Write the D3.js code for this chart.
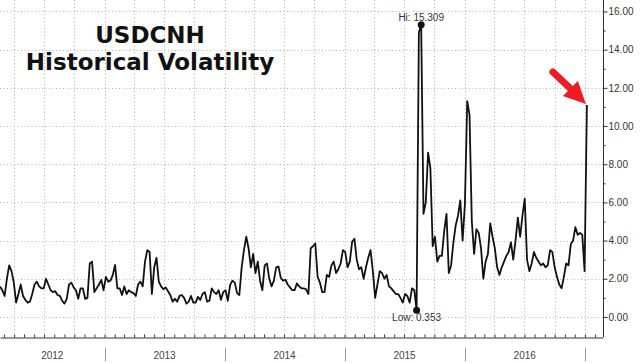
<!DOCTYPE html>
<html>
<head>
<meta charset="utf-8">
<script src="https://cdn.jsdelivr.net/npm/d3@7"></script>
<style>
  body { margin: 0; background: #fff; }
  svg { display: block; }
</style>
</head>
<body>
<div id="chart"></div>
<script>
// chart data: weekly USDCNH historical volatility
const startDate = "2012-02-18";
const volatility = [
  1.6, 1.4, 1.1, 2.0, 2.7, 2.4, 1.8, 0.75, 1.2, 1.7, 1.1, 0.9, 0.75, 0.8, 1.2, 1.7, 1.85, 1.6, 1.5, 1.5, 2.0, 1.7,
  1.4, 1.3, 1.35, 1.15, 1.1, 0.85, 0.7, 0.95, 1.7, 1.8, 1.55, 1.4, 0.95, 1.5, 1.5, 0.95, 1.0, 2.8, 2.9, 1.3, 1.5, 1.7,
  1.94, 1.4, 2.1, 1.85, 1.9, 2.2, 2.72, 1.5, 1.5, 1.15, 1.6, 1.2, 1.4, 1.3, 1.25, 1.1, 1.7, 1.85, 1.6, 2.9, 3.5, 3.4,
  1.2, 2.6, 3.1, 1.85, 1.6, 1.45, 1.55, 1.35, 1.15, 0.8, 0.95, 0.8, 1.1, 1.15, 1.0, 0.7, 0.8, 1.1, 0.75, 0.75, 1.05,
  0.89, 1.2, 1.3, 0.8, 0.85, 1.5, 1.3, 1.2, 1.4, 0.9, 1.3, 1.4, 0.85, 1.68, 1.9, 1.8, 1.25, 1.15, 2.6, 3.5, 4.2, 3.6,
  2.6, 3.3, 2.3, 2.9, 1.9, 1.4, 2.7, 2.8, 2.0, 1.6, 1.9, 2.6, 2.64, 2.05, 1.9, 1.95, 1.7, 1.55, 1.4, 1.4, 1.76, 1.6,
  1.5, 1.5, 1.45, 1.2, 3.6, 3.7, 3.85, 2.1, 1.8, 1.3, 1.3, 2.2, 2.1, 2.7, 2.9, 2.3, 2.5, 2.8, 3.5, 3.4, 2.6, 2.9,
  3.94, 4.1, 3.0, 2.5, 2.6, 2.0, 2.6, 3.1, 3.5, 2.4, 1.0, 1.7, 2.4, 2.3, 2.0, 2.2, 1.6, 1.5, 1.35, 1.2, 1.2, 1.0,
  0.75, 1.2, 1.1, 0.75, 1.5, 1.4, 0.353,
  14.9, 15.309, 5.4, 6.0, 8.6, 7.8, 3.7, 4.2, 2.9, 3.2, 3.2, 4.5, 5.4, 2.3, 2.7, 3.9, 4.8, 5.3, 6.1, 4.0, 5.9, 11.3,
  10.6, 5.0, 3.3, 4.6, 4.4, 3.6, 2.0, 2.9, 3.3, 4.9, 4.2, 3.6, 2.6, 2.2,
  2.6, 2.9, 3.2, 3.4, 3.9, 3.0, 4.0, 5.2, 4.2, 5.3, 6.2, 3.0, 2.4, 2.8, 3.4, 3.1, 2.9, 2.7, 2.8, 2.6, 2.7, 3.5,
  3.4, 2.6, 2.1, 1.7, 1.5, 2.1, 2.8, 2.7, 3.8, 4.0, 4.7, 4.3, 4.4, 4.3, 2.4, 11.1
];
const yTicks = [0, 2, 4, 6, 8, 10, 12, 14, 16];
const yMinorTicks = [1, 3, 5, 7, 9, 11, 13, 15];
const years = ["2012", "2013", "2014", "2015", "2016", "2017"];
const titleLines = ["USDCNH", "Historical Volatility"];

const svgWidth = 640;
const svgHeight = 363;
const plotRight = 603;
const plotBottom = 337;

const svg = d3.select("#chart")
    .append("svg")
    .attr("width", svgWidth)
    .attr("height", svgHeight)
    .style("font-family", "'Liberation Sans', Arial, sans-serif");

svg.append("rect").attr("width", svgWidth).attr("height", svgHeight).attr("fill", "#fff");

const parse = d3.timeParse("%Y-%m-%d");
const start = parse(startDate);
const data = volatility.map((v, i) => ({ date: d3.timeDay.offset(start, i * 7), value: v }));

// scales
const x = d3.scaleTime()
    .domain([parse("2012-02-18"), parse("2017-02-25")])
    .range([0, plotRight]);
const y = d3.scaleLinear()
    .domain([-1.05, 16.6])
    .range([plotBottom, 0]);

// dotted grid
const grid = svg.append("g")
    .attr("stroke", "#b4b4b4")
    .attr("stroke-width", 1)
    .attr("stroke-dasharray", "1,2.5");

grid.selectAll("line.h")
    .data(yTicks)
    .enter()
    .append("line")
    .attr("x1", 0)
    .attr("x2", plotRight)
    .attr("y1", d => Math.round(y(d)) + 0.5)
    .attr("y2", d => Math.round(y(d)) + 0.5);

grid.selectAll("line.v")
    .data(x.ticks(d3.timeMonth.every(3)))
    .enter()
    .append("line")
    .attr("x1", d => Math.round(x(d)) + 0.5)
    .attr("x2", d => Math.round(x(d)) + 0.5)
    .attr("y1", 0)
    .attr("y2", plotBottom);

// title
svg.selectAll("text.title")
    .data(titleLines)
    .enter()
    .append("text")
    .attr("x", 150)
    .attr("y", (d, i) => 42.5 + i * 27.5)
    .attr("text-anchor", "middle")
    .style("font-family", "'DejaVu Sans', Verdana, sans-serif")
    .style("font-weight", "bold")
    .style("font-size", "23px")
    .attr("fill", "#111")
    .text(d => d);

// the line
svg.append("clipPath").attr("id", "clip")
    .append("rect").attr("width", plotRight).attr("height", plotBottom);

const line = d3.line()
    .x(d => x(d.date))
    .y(d => y(d.value));

svg.append("path")
    .datum(data)
    .attr("clip-path", "url(#clip)")
    .attr("fill", "none")
    .attr("stroke", "#111")
    .attr("stroke-width", 1.8)
    .attr("stroke-linejoin", "round")
    .attr("d", line);

// right axis
const rightAxis = d3.axisRight(y)
    .tickValues(yTicks)
    .tickFormat(d3.format(".2f"))
    .tickSize(4)
    .tickSizeOuter(0);

const yAxis = svg.append("g")
    .attr("transform", `translate(${plotRight + 0.5}, 0)`)
    .call(rightAxis);
yAxis.select(".domain").attr("stroke", "#333").attr("d", `M0,0V${plotBottom}`);
yAxis.selectAll(".tick line").attr("stroke", "#333");
yAxis.selectAll(".tick text")
    .attr("x", 5)
    .attr("fill", "#333")
    .style("font-size", "10px")
    .style("font-family", "'Liberation Sans', Arial, sans-serif");

svg.append("g")
    .attr("transform", `translate(${plotRight + 0.5}, 0)`)
    .call(d3.axisRight(y).tickValues(yMinorTicks).tickSize(2).tickFormat(""))
    .call(g => g.select(".domain").remove())
    .selectAll("line").attr("stroke", "#333");

// bottom axis with monthly ticks pointing up
const bottomAxis = d3.axisBottom(x)
    .ticks(d3.timeMonth.every(1))
    .tickSize(-3)
    .tickSizeOuter(0)
    .tickFormat("");

const xAxis = svg.append("g")
    .attr("transform", `translate(0, ${plotBottom + 0.5})`)
    .call(bottomAxis);
xAxis.select(".domain").attr("stroke", "#333");
xAxis.selectAll(".tick line").attr("stroke", "#333");

// year separators and labels
const yearDates = years.map(d => parse(d + "-01-01"));
svg.selectAll("line.sep")
    .data(yearDates.slice(1))
    .enter()
    .append("line")
    .attr("x1", d => Math.round(x(d)) + 0.5)
    .attr("x2", d => Math.round(x(d)) + 0.5)
    .attr("y1", 348)
    .attr("y2", 361)
    .attr("stroke", "#999");

svg.selectAll("text.year")
    .data(years.slice(0, 5))
    .enter()
    .append("text")
    .attr("x", (d, i) => {
        const a = Math.max(0, x(yearDates[i]));
        const b = Math.min(plotRight, x(yearDates[i + 1]));
        return (a + b) / 2;
    })
    .attr("y", 359)
    .attr("text-anchor", "middle")
    .attr("fill", "#444")
    .style("font-size", "10px")
    .text(d => d);

// hi / low markers
const hi = data[d3.maxIndex(data, d => d.value)];
const lo = data[d3.minIndex(data, d => d.value)];

[hi, lo].forEach(function(p) {
    svg.append("circle")
        .attr("cx", x(p.date))
        .attr("cy", y(p.value))
        .attr("r", 3.5)
        .attr("fill", "#111");
});

svg.append("text")
    .attr("x", x(hi.date))
    .attr("y", y(hi.value) - 4)
    .attr("text-anchor", "middle")
    .attr("fill", "#333")
    .style("font-size", "10px")
    .text("Hi: " + d3.format(".3f")(hi.value));

svg.append("text")
    .attr("x", x(lo.date))
    .attr("y", y(lo.value) + 11)
    .attr("text-anchor", "middle")
    .attr("fill", "#333")
    .style("font-size", "10px")
    .text("Low: " + d3.format(".3f")(lo.value));

// red arrow pointing at the last value
const last = data[data.length - 1];
const tipX = x(last.date) - 1;
const tipY = y(last.value) - 1;

const arrow = svg.append("g").attr("transform", `translate(${tipX}, ${tipY})`);
arrow.append("line")
    .attr("x1", -33).attr("y1", -32)
    .attr("x2", -15).attr("y2", -15)
    .attr("stroke", "#ee1c24")
    .attr("stroke-width", 7)
    .attr("stroke-linecap", "round");
arrow.append("polygon")
    .attr("points", "0,0 -23,-8 -8,-23")
    .attr("fill", "#ee1c24");
</script>
</body>
</html>
